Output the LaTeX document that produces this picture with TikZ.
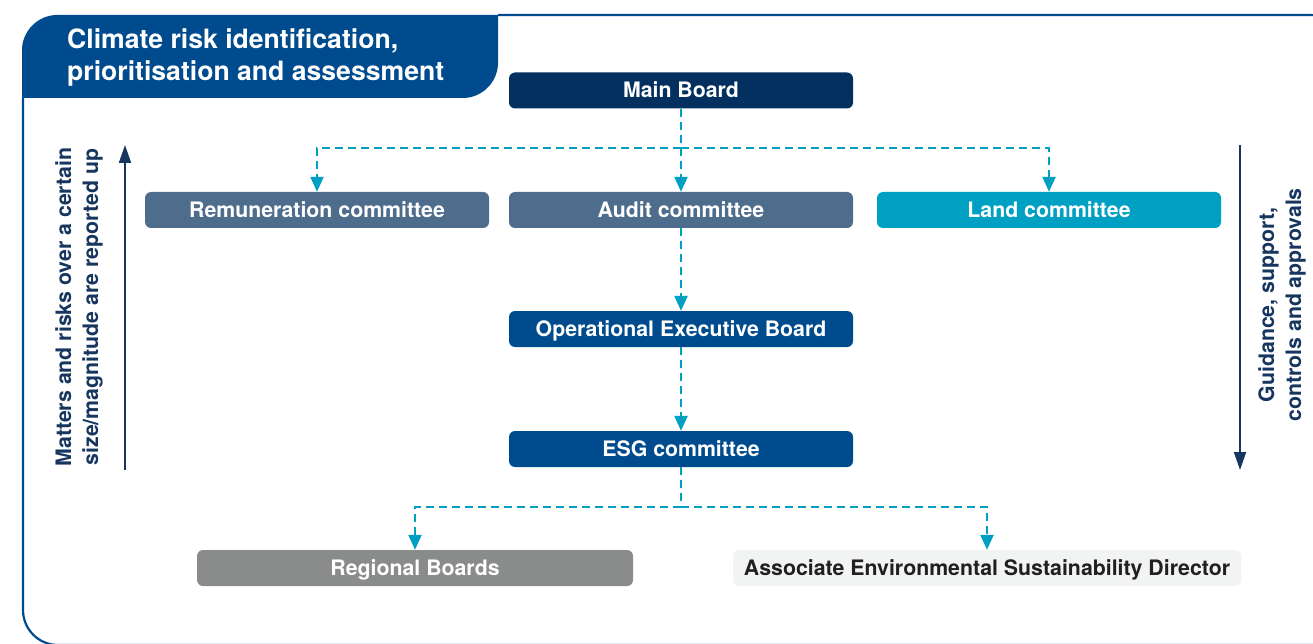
\documentclass[tikz,border=0pt]{standalone}
\usepackage{fontspec}
\setmainfont{TeX Gyre Heros}
\usetikzlibrary{arrows.meta}
\definecolor{tabblue}{HTML}{004B8D}
\definecolor{mainnavy}{HTML}{03305E}
\definecolor{slate}{HTML}{4E6D8D}
\definecolor{landcyan}{HTML}{00A0C3}
\definecolor{boardgrey}{HTML}{8A8C8C}
\definecolor{palegrey}{HTML}{F2F3F3}
\definecolor{darktext}{HTML}{231F20}
\definecolor{sidenavy}{HTML}{17365F}
\begin{document}
\begin{tikzpicture}[x=1pt,y=-1pt,
    box/.style={rounded corners=6pt,minimum width=344pt,minimum height=36pt,inner sep=0pt,
        text=white,font=\fontsize{21.3}{25}\selectfont\bfseries,text height=15pt,text depth=0pt},
    dashline/.style={draw=landcyan,line width=2.3pt,dash pattern=on 8pt off 5pt,
        -{Triangle[width=13pt,length=15pt]}},
    sidearrow/.style={draw=sidenavy,line width=2pt,-{Triangle[width=12pt,length=18pt]}},
    sidetext/.style={rotate=90,align=center,text=sidenavy,font=\fontsize{21.3}{27}\selectfont\bfseries}]
    \useasboundingbox (0,0) rectangle (1313,644);
    \clip (0,0) rectangle (1313,644);
    % frame and title tab
    \draw[tabblue,line width=2.2pt,rounded corners=35pt]
        (498,15) -- (1345,15) -- (1345,645) -- (23,645) -- (23,98);
    \fill[tabblue] (22,98) -- (22,50) .. controls (22,31) and (38,15) .. (57,15)
        -- (498,15) -- (498,63) .. controls (498,82) and (482,98) .. (463,98) -- cycle;
    \node[anchor=north west,inner sep=0pt,align=left,text=white,
        font=\fontsize{26.6}{32}\selectfont\bfseries] (title) at (67,28)
        {Climate risk identification,\\prioritisation and assessment};
    % boards and committees
    \node[box,fill=mainnavy] (main) at (681,90.5) {Main Board};
    \node[box,fill=slate] (remun) at (317,210) {Remuneration committee};
    \node[box,fill=slate] (audit) at (681,210) {Audit committee};
    \node[box,fill=landcyan] (land) at (1049,210) {Land committee};
    \node[box,fill=tabblue] (opboard) at (681,329) {Operational Executive Board};
    \node[box,fill=tabblue] (esg) at (681,449) {ESG committee};
    \node[box,fill=boardgrey,minimum width=436pt] (regional) at (415,568) {Regional Boards};
    \node[box,fill=palegrey,text=darktext,minimum width=508pt] (director) at (987,568)
        {Associate Environmental Sustainability Director};
    % dashed links
    \coordinate (split) at (681,148);
    \coordinate (esgsplit) at (681,507);
    \draw[dashline] (main) -- (audit);
    \draw[dashline] (split) -| (remun.north);
    \draw[dashline] (split) -| (land.north);
    \draw[dashline] (audit) -- (opboard);
    \draw[dashline] (opboard) -- (esg);
    \draw[dashline,-] (esg) -- (esgsplit);
    \draw[dashline] (esgsplit) -| (regional.north);
    \draw[dashline] (esgsplit) -| (director.north);
    % reporting directions
    \coordinate (upfoot) at (125,470);
    \coordinate (uphead) at (125,145);
    \coordinate (downtop) at (1240,145);
    \coordinate (downfoot) at (1240,470);
    \draw[sidearrow] (upfoot) -- (uphead);
    \draw[sidearrow] (downtop) -- (downfoot);
    \node[sidetext] (uptext) at (79,307)
        {Matters and risks over a certain\\size/magnitude are reported up};
    \node[sidetext] (downtext) at (1282,305)
        {Guidance, support,\\controls and approvals};
\end{tikzpicture}
\end{document}
